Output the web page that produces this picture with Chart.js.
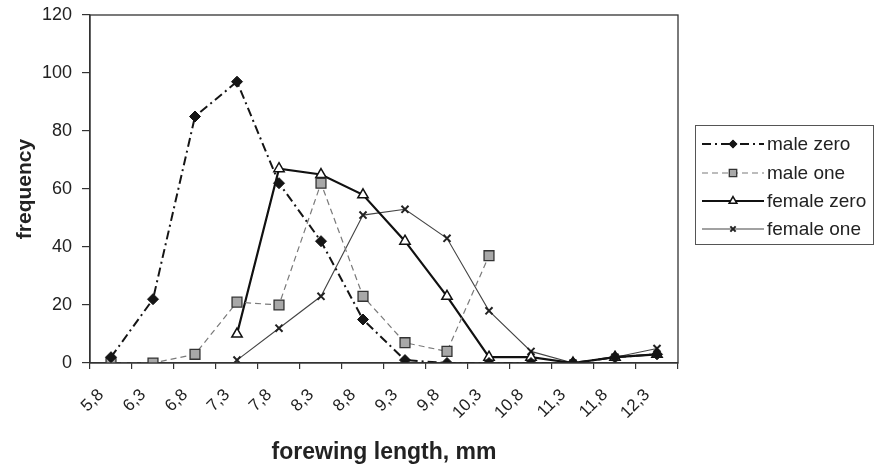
<!DOCTYPE html>
<html>
<head>
<meta charset="utf-8">
<script src="https://cdn.jsdelivr.net/npm/chart.js@4.4.1/dist/chart.umd.min.js"></script>
<style>
  html, body { margin: 0; padding: 0; background: #fff; }
  #wrap { position: relative; width: 876px; height: 468px; }
  #legend {
    position: absolute; left: 695px; top: 125px; width: 179px; height: 120px;
    border: 1px solid #555; box-sizing: border-box;
    font-family: Arial, "Liberation Sans", sans-serif; font-size: 19px; color: #222;
  }
  .item { position: absolute; left: 6px; height: 22px; display: flex; align-items: center; white-space: nowrap; }
  .item canvas { margin-right: 3px; }
</style>
</head>
<body>
<div id="wrap">
  <canvas id="chart" width="876" height="468"></canvas>
  <div id="legend"></div>
</div>
<script>
// forewing length classes (mm)
const labels = ['5,8', '6,3', '6,8', '7,3', '7,8', '8,3', '8,8', '9,3', '9,8', '10,3', '10,8', '11,3', '11,8', '12,3'];
// frequencies
const maleZero = [2, 22, 85, 97, 62, 42, 15, 1, 0, 0, 0, 0, 2, 3];
const maleOne = [0, 0, 3, 21, 20, 62, 23, 7, 4, 37, null, null, null, null];
const femaleZero = [null, null, null, 10, 67, 65, 58, 42, 23, 2, 2, 0, 2, 3];
const femaleOne = [null, null, null, 1, 12, 23, 51, 53, 43, 18, 4, 0, 2, 5];

const font = 'Arial, "Liberation Sans", sans-serif';

const datasets = [
  {
    label: 'male zero', data: maleZero,
    borderColor: '#151515', borderWidth: 2, borderDash: [9, 4, 2, 4],
    pointStyle: 'rectRot', pointRadius: 5.5, pointBackgroundColor: '#151515', pointBorderColor: '#151515', pointBorderWidth: 1
  },
  {
    label: 'male one', data: maleOne,
    borderColor: '#7a7a7a', borderWidth: 1.2, borderDash: [6, 4],
    pointStyle: 'rect', pointRadius: 7, pointBackgroundColor: '#a8a8a8', pointBorderColor: '#333', pointBorderWidth: 1.3
  },
  {
    label: 'female zero', data: femaleZero,
    borderColor: '#111', borderWidth: 2.2,
    pointStyle: 'triangle', pointRadius: 6, pointBackgroundColor: '#fff', pointBorderColor: '#111', pointBorderWidth: 1.5
  },
  {
    label: 'female one', data: femaleOne,
    borderColor: '#444', borderWidth: 1.1,
    pointStyle: 'crossRot', pointRadius: 5, pointBorderColor: '#222', pointBorderWidth: 2
  }
];
datasets.forEach(d => { d.fill = false; d.tension = 0; d.spanGaps = false; });

// box round the plot area
const frame = {
  id: 'frame',
  afterDraw(chart) {
    const a = chart.chartArea, c = chart.ctx;
    c.save();
    c.strokeStyle = '#333';
    c.lineWidth = 1.3;
    c.strokeRect(a.left, a.top, a.right - a.left, a.bottom - a.top);
    c.restore();
  }
};

new Chart(document.getElementById('chart').getContext('2d'), {
  type: 'line',
  data: { labels: labels, datasets: datasets },
  options: {
    responsive: false,
    animation: false,
    layout: { padding: { left: 9, right: 198, top: 15, bottom: 0 } },
    plugins: { legend: { display: false }, tooltip: { enabled: false } },
    scales: {
      x: {
        offset: true,
        afterFit(scale) { scale.height = 105; },
        grid: { offset: true, drawOnChartArea: false, tickLength: 6, color: '#333', lineWidth: 1.2 },
        border: { color: '#333', width: 1.3 },
        ticks: {
          autoSkip: false, maxRotation: 45, minRotation: 45, padding: 16, labelOffset: -10,
          color: '#222', font: { family: font, size: 17 }
        },
        title: {
          display: true, text: 'forewing length, mm', color: '#222',
          font: { family: font, size: 23, weight: 'bold' }, padding: { top: 2, bottom: 2 }
        }
      },
      y: {
        min: 0, max: 120,
        afterFit(scale) { scale.width = 81; scale.paddingTop = 4; scale.paddingBottom = 4; },
        grid: { drawOnChartArea: false, tickLength: 8, color: '#333', lineWidth: 1.2 },
        border: { color: '#333', width: 1.3 },
        ticks: { stepSize: 20, padding: 10, color: '#222', font: { family: font, size: 18 } },
        title: {
          display: true, text: 'frequency', color: '#222',
          font: { family: font, size: 21, weight: 'bold' }, padding: { top: 4, bottom: 4 }
        }
      }
    }
  },
  plugins: [frame]
});

// legend with line + marker samples
const legend = document.getElementById('legend');
const rowTops = [7, 36, 64, 92];
datasets.forEach((d, i) => {
  const item = document.createElement('div');
  item.className = 'item';
  item.style.top = rowTops[i] + 'px';
  const cv = document.createElement('canvas');
  cv.width = 62; cv.height = 16;
  const c = cv.getContext('2d');
  c.strokeStyle = d.borderColor;
  c.lineWidth = d.borderWidth;
  c.setLineDash(d.borderDash || []);
  c.beginPath(); c.moveTo(0, 8); c.lineTo(62, 8); c.stroke();
  c.setLineDash([]);
  c.fillStyle = d.pointBackgroundColor || '#fff';
  c.strokeStyle = d.pointBorderColor;
  c.lineWidth = d.pointBorderWidth;
  Chart.helpers.drawPoint(c, { pointStyle: d.pointStyle, radius: d.pointRadius * 0.75, borderWidth: d.pointBorderWidth }, 31, 8);
  const span = document.createElement('span');
  span.textContent = d.label;
  item.appendChild(cv);
  item.appendChild(span);
  legend.appendChild(item);
});
</script>
</body>
</html>
